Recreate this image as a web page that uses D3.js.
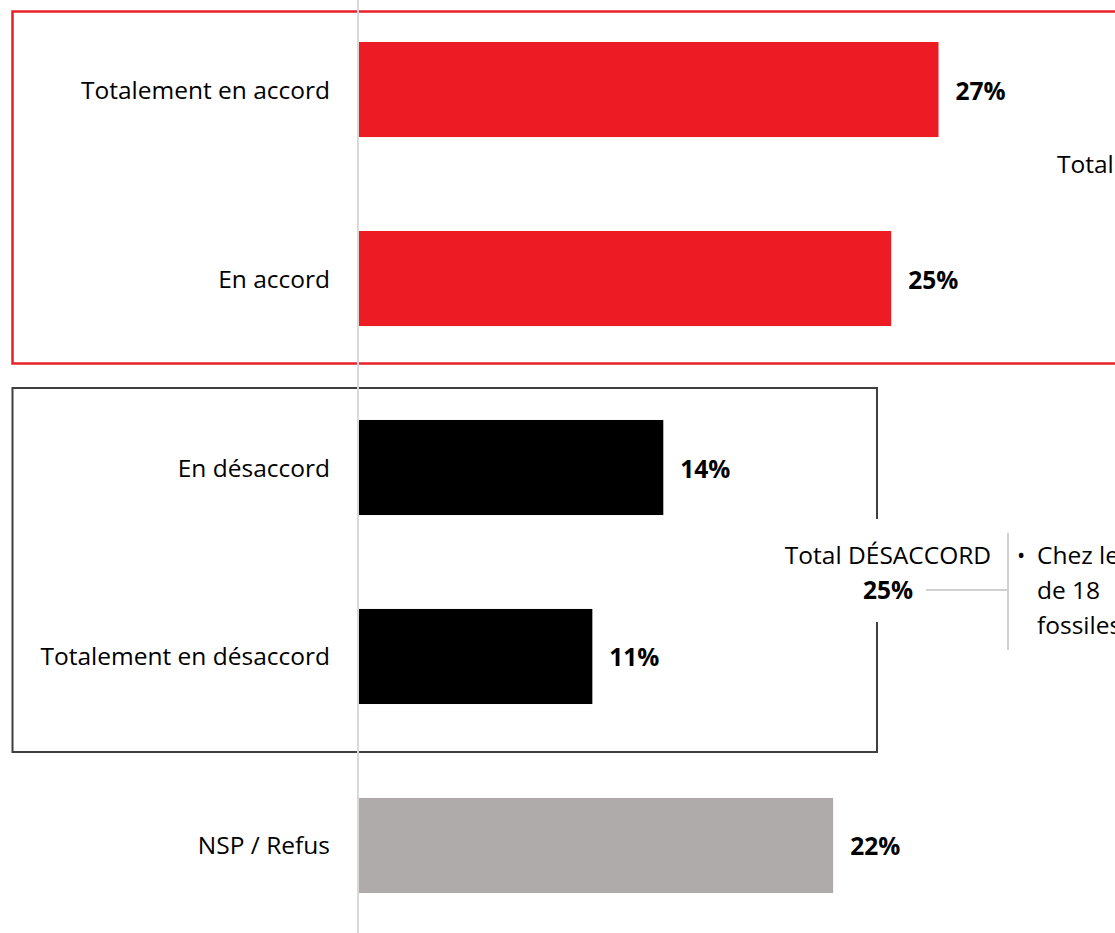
<!DOCTYPE html>
<html>
<head>
<meta charset="utf-8">
<script src="https://cdn.jsdelivr.net/npm/d3@7/dist/d3.min.js"></script>
<style>
  body { margin: 0; background: #fff; overflow: hidden; }
  svg { display: block; font-family: "Open Sans", "Noto Sans", sans-serif; }
</style>
</head>
<body>
<div id="chart"></div>
<script>
// data
var categories = ["Totalement en accord", "En accord", "En désaccord", "Totalement en désaccord", "NSP / Refus"];
var values = [27.0, 24.8, 14.2, 10.9, 22.1];
var barColors = ["#ED1C24", "#ED1C24", "#000000", "#000000", "#AFABAB"];
var totalLabels = ["Total ACCORD", "Total DÉSACCORD"];
var totalValues = [52, 25];
var noteLines = ["Chez les", "de 18", "fossiles"];

var width = 1115, height = 933;
var fs = 24.5;
var svg = d3.select("#chart").append("svg").attr("width", width).attr("height", height);

var x = d3.scaleLinear().domain([0, 10]).range([358, 573]);
var y = d3.scaleBand().domain(categories).range([-5, 940])
    .paddingInner(0.497).paddingOuter(0.2487);

// group boxes
svg.append("rect").attr("x", 12.5).attr("y", 11.5).attr("width", 1120).attr("height", 352)
    .attr("fill", "none").attr("stroke", "#E8202A").attr("stroke-width", 2.5);

// black box, right edge broken for the total label
var bx0 = 12.5, bx1 = 877, by0 = 388, by1 = 752;
svg.append("path")
    .attr("d", "M" + bx1 + "," + 519 + "V" + by0 + "H" + bx0 + "V" + by1 + "H" + bx1 + "V" + 622)
    .attr("fill", "none").attr("stroke", "#3F3F3F").attr("stroke-width", 2);

// vertical axis line
svg.append("line").attr("x1", x(0)).attr("x2", x(0)).attr("y1", 0).attr("y2", height)
    .attr("stroke", "#D9D9D9").attr("stroke-width", 2);

// bars
svg.selectAll("rect.bar").data(categories).enter().append("rect")
    .attr("class", "bar")
    .attr("x", x(0) + 1)
    .attr("y", function(d) { return y(d); })
    .attr("width", function(d, i) { return x(values[i]) - x(0) - 1; })
    .attr("height", y.bandwidth())
    .attr("fill", function(d, i) { return barColors[i]; });

// category labels
svg.selectAll("text.cat").data(categories).enter().append("text")
    .attr("class", "cat")
    .attr("x", 330)
    .attr("y", function(d) { return y(d) + y.bandwidth() / 2 + 9; })
    .attr("text-anchor", "end")
    .attr("font-size", fs)
    .attr("fill", "#000")
    .text(function(d) { return d; });

// value labels
svg.selectAll("text.val").data(categories).enter().append("text")
    .attr("class", "val")
    .attr("x", function(d, i) { return x(values[i]) + 17; })
    .attr("y", function(d) { return y(d) + y.bandwidth() / 2 + 10; })
    .attr("font-size", fs)
    .attr("font-weight", "bold")
    .text(function(d, i) { return Math.round(values[i]) + "%"; });

// total ACCORD (cut off on the right, as in the original)
svg.append("text").attr("x", 1057).attr("y", 173).attr("font-size", fs).text(totalLabels[0]);

// total DESACCORD
svg.append("text").attr("x", 888).attr("y", 564).attr("text-anchor", "middle")
    .attr("font-size", fs).text(totalLabels[1]);
svg.append("text").attr("x", 888).attr("y", 599).attr("text-anchor", "middle")
    .attr("font-size", fs).attr("font-weight", "bold").text(totalValues[1] + "%");

// bracket to the note
svg.append("line").attr("x1", 926).attr("x2", 1008).attr("y1", 590).attr("y2", 590)
    .attr("stroke", "#D0D0D0").attr("stroke-width", 2);
svg.append("line").attr("x1", 1008).attr("x2", 1008).attr("y1", 533).attr("y2", 650)
    .attr("stroke", "#D0D0D0").attr("stroke-width", 2);

svg.append("text").attr("x", 1017).attr("y", 563).attr("font-size", 22).text("•");
svg.selectAll("text.note").data(noteLines).enter().append("text")
    .attr("class", "note")
    .attr("x", 1037)
    .attr("y", function(d, i) { return 564 + i * 35; })
    .attr("font-size", fs)
    .text(function(d) { return d; });
</script>
</body>
</html>
